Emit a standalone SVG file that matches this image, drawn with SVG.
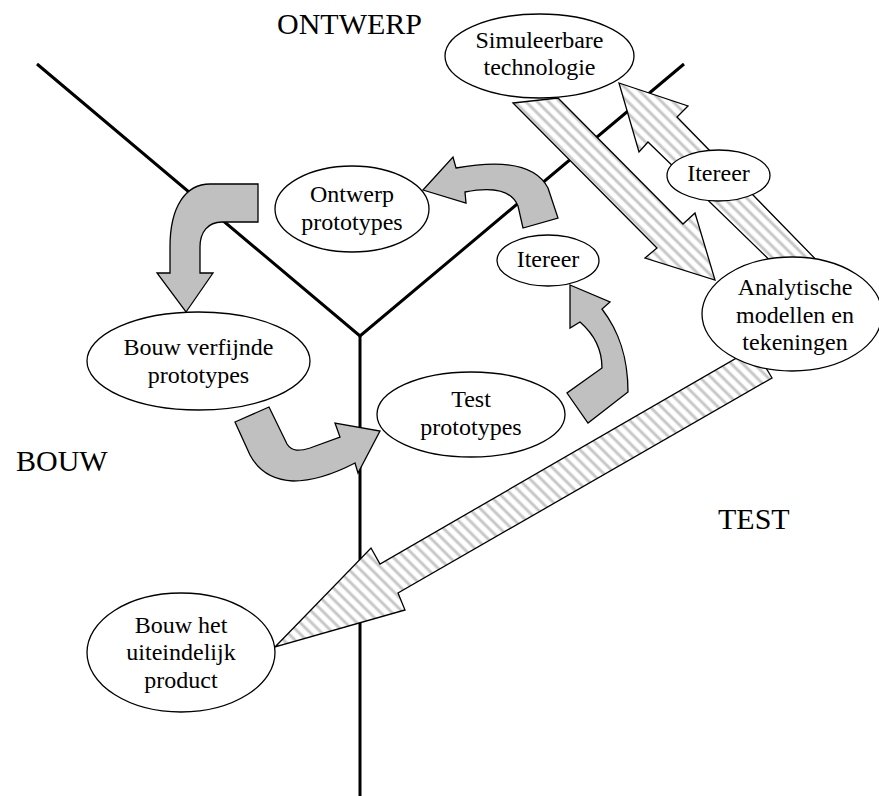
<svg xmlns="http://www.w3.org/2000/svg" width="879" height="796" viewBox="0 0 879 796">
<style>
.axis{stroke:#000;stroke-width:3;fill:none;stroke-linecap:butt}
.lbl{font-family:"Liberation Serif","Times New Roman",serif;font-size:30px;fill:#000}
.nt{font-family:"Liberation Serif","Times New Roman",serif;font-size:24px;fill:#000;text-anchor:middle}
.node{fill:#fff;stroke:#000;stroke-width:1.3}
.grey{fill:#c0c0c0;stroke:#000;stroke-width:1.3;stroke-linejoin:miter}
.striped{fill:url(#stripes);stroke:#000;stroke-width:1.3;stroke-linejoin:miter}
</style>
<defs>
<linearGradient id="sg" x1="0" y1="0" x2="1" y2="0">
<stop offset="0" stop-color="#ffffff"/>
<stop offset="0.2" stop-color="#ffffff"/>
<stop offset="0.5" stop-color="#b8b8b8"/>
<stop offset="0.8" stop-color="#ffffff"/>
<stop offset="1" stop-color="#ffffff"/>
</linearGradient>
<pattern id="stripes" patternUnits="userSpaceOnUse" width="8" height="20" patternTransform="rotate(-45)">
<rect x="0" y="0" width="8" height="20" fill="url(#sg)"/>
</pattern>
</defs>
<rect width="879" height="796" fill="#fff"/>
<g id="axes">
<polyline class="axis" points="37,64 360,336 684,64"/>
<line class="axis" x1="360" y1="335" x2="360" y2="796"/>
<text class="lbl" x="277" y="34">ONTWERP</text>
<text class="lbl" x="16" y="471">BOUW</text>
<text class="lbl" x="718" y="529">TEST</text>
</g>
<g id="connectors">
<path class="grey" d="M258,184 L210,184 C186,184 170,206 170,247 L170,273 L157,273 L186,312 L213,273 L200,273 L200,247 C200,232 208,222 222,222 L258,222 Z"/>
<path class="grey" d="M423,190 L453,157 L456,168 C500,160 535,163 548,188 L558,218 L523,228 L518,206 C512,191 495,186 465,192 L466,203 Z"/>
<path class="grey" d="M235,422 L269,407 L287,444 C292,452 300,451 310,448 L340,437 L335,423 L380,431 L358,473 L355,463 C330,476 310,481 293,481 C272,480 258,470 250,455 Z"/>
<path class="grey" d="M570,285 L610,302 L602,309 C618,330 628,355 628,392 L588,423 L567,393 L602,368 C602,350 595,335 580,322 L570,328 Z"/>
<path class="striped" d="M513,103 L558,98 L683,224 L695,213 L715,280 L645,258 L657,248 Z"/>
<path class="striped" d="M619,83 L688,106 L677,117 L831,275 L785,275 L648,142 L639,152 Z"/>
<path class="striped" d="M275,647 L371,548 L380,564 L754,348 L772,378 L398,593 L405,610 Z"/>
</g>
<g id="n-simuleerbare">
<ellipse class="node" cx="539.5" cy="56" rx="94.5" ry="42"/>
<text class="nt" x="539.5" y="48">Simuleerbare</text>
<text class="nt" x="539.5" y="75">technologie</text>
</g>
<g id="n-itereer1">
<ellipse class="node" cx="718.5" cy="175.5" rx="51.5" ry="25.5"/>
<text class="nt" x="718.5" y="181">Itereer</text>
</g>
<g id="n-itereer2">
<ellipse class="node" cx="548" cy="260.5" rx="51" ry="25.5"/>
<text class="nt" x="548" y="267">Itereer</text>
</g>
<g id="n-ontwerp">
<ellipse class="node" cx="352" cy="209" rx="77" ry="43"/>
<text class="nt" x="352" y="202">Ontwerp</text>
<text class="nt" x="352" y="230">prototypes</text>
</g>
<g id="n-analytische">
<ellipse class="node" cx="792" cy="314" rx="90" ry="57"/>
<text class="nt" x="795" y="295">Analytische</text>
<text class="nt" x="795" y="323">modellen en</text>
<text class="nt" x="795" y="350">tekeningen</text>
</g>
<g id="n-bouwverfijnde">
<ellipse class="node" cx="198.5" cy="361" rx="111.5" ry="49"/>
<text class="nt" x="198.5" y="355">Bouw verfijnde</text>
<text class="nt" x="198.5" y="383">prototypes</text>
</g>
<g id="n-test">
<ellipse class="node" cx="471" cy="414.5" rx="94" ry="42.5"/>
<text class="nt" x="471" y="407">Test</text>
<text class="nt" x="471" y="435">prototypes</text>
</g>
<g id="n-bouwhet">
<ellipse class="node" cx="181" cy="652.5" rx="94" ry="59.5"/>
<text class="nt" x="181" y="633">Bouw het</text>
<text class="nt" x="181" y="660">uiteindelijk</text>
<text class="nt" x="181" y="688">product</text>
</g>
</svg>
